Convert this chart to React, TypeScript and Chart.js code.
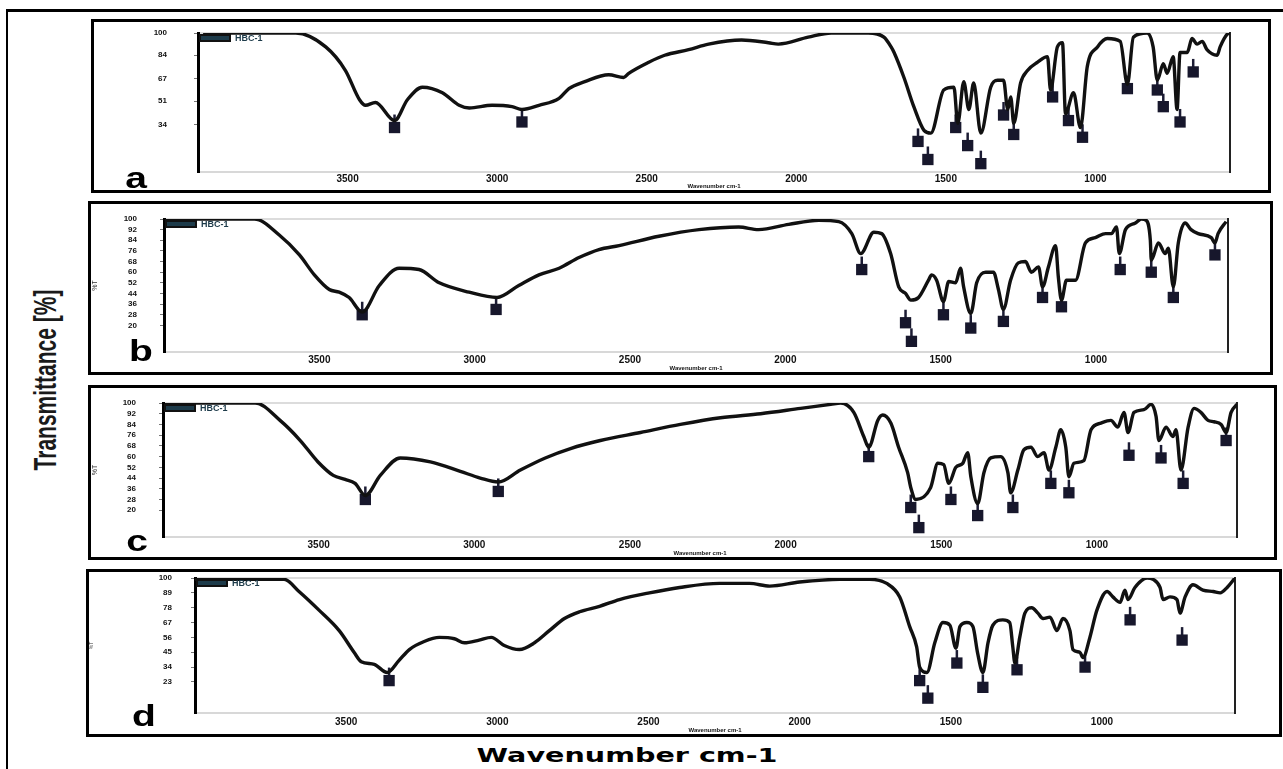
import React, { useEffect, useRef } from 'react';
import { Chart, registerables } from 'chart.js';

Chart.register(...registerables);

// ---------------- data ----------------
const xTickValues = [3500, 3000, 2500, 2000, 1500, 1000];
const seriesLabel = 'HBC-1';

const waveA = [3983, 3673, 3573, 3507, 3460, 3440, 3407, 3343, 3300, 3250, 3183, 3127, 3093, 3017, 2950, 2917, 2860, 2793, 2760, 2707, 2627, 2577, 2560, 2493, 2440, 2360, 2293, 2183, 2093, 2060, 1960, 1883, 1793, 1760, 1707, 1683, 1673, 1640, 1607, 1573, 1550, 1507, 1473, 1460, 1440, 1423, 1407, 1383, 1350, 1327, 1307, 1293, 1283, 1273, 1250, 1227, 1193, 1160, 1150, 1127, 1110, 1100, 1073, 1050, 1027, 993, 960, 917, 893, 873, 827, 807, 793, 773, 760, 740, 727, 717, 693, 677, 660, 643, 627, 593, 583, 560, 550];
const transA = [100, 100, 90, 73, 52, 48, 50, 37, 52, 61, 57, 48, 46, 48, 47, 45, 48, 53, 60, 65, 70, 68, 71, 79, 84, 88, 92, 95, 93, 92, 97, 100, 100, 100, 97, 90, 86, 68, 47, 30, 28, 59, 61, 35, 65, 45, 64, 28, 61, 66, 66, 45, 54, 35, 64, 73, 79, 83, 59, 90, 93, 42, 57, 32, 76, 90, 96, 94, 63, 97, 100, 90, 66, 78, 71, 83, 45, 86, 86, 96, 92, 94, 88, 84, 90, 99, 100];
const peakWaveA = [3343, 2917, 1593, 1560, 1467, 1427, 1383, 1307, 1273, 1143, 1090, 1043, 893, 793, 773, 717, 673];
const peakTransA = [32, 36, 22, 9, 32, 19, 6, 41, 27, 54, 37, 25, 60, 59, 47, 36, 72];
const yTicksA = [100, 84, 67, 51, 34];

const waveB = [3998, 3709, 3629, 3564, 3516, 3468, 3436, 3404, 3362, 3307, 3243, 3179, 3114, 3018, 2928, 2858, 2793, 2728, 2664, 2600, 2535, 2407, 2278, 2150, 2086, 1989, 1892, 1828, 1786, 1757, 1715, 1690, 1661, 1635, 1613, 1596, 1571, 1539, 1529, 1513, 1491, 1474, 1452, 1436, 1426, 1403, 1384, 1355, 1330, 1314, 1298, 1275, 1250, 1227, 1208, 1185, 1172, 1153, 1130, 1121, 1111, 1095, 1066, 1034, 1002, 969, 950, 934, 925, 905, 873, 854, 838, 825, 822, 799, 777, 767, 751, 735, 713, 694, 671, 629, 617, 607, 581];
const transB = [100, 100, 88, 73, 58, 47, 45, 41, 30, 50, 63, 62, 52, 45, 41, 50, 58, 63, 71, 77, 80, 87, 92, 94, 92, 96, 99, 98, 89, 74, 90, 89, 74, 49, 44, 39, 41, 54, 58, 54, 38, 53, 52, 63, 49, 29, 52, 60, 60, 47, 32, 54, 67, 68, 60, 64, 49, 64, 80, 56, 39, 54, 54, 82, 86, 89, 89, 94, 74, 92, 97, 100, 99, 84, 69, 82, 74, 78, 49, 82, 97, 92, 89, 86, 82, 89, 98];
const peakWaveB = [3362, 2931, 1754, 1613, 1594, 1491, 1403, 1298, 1172, 1111, 922, 822, 751, 617];
const peakTransB = [28, 32, 62, 22, 8, 28, 18, 23, 41, 34, 62, 60, 41, 73];
const yTicksB = [100, 92, 84, 76, 68, 60, 52, 44, 36, 28, 20];

const waveC = [3994, 3704, 3624, 3559, 3502, 3453, 3415, 3383, 3350, 3302, 3238, 3141, 3045, 2981, 2923, 2852, 2772, 2691, 2595, 2466, 2338, 2209, 2080, 1952, 1855, 1823, 1781, 1749, 1733, 1704, 1688, 1662, 1637, 1608, 1598, 1582, 1534, 1511, 1492, 1476, 1453, 1431, 1415, 1405, 1383, 1363, 1341, 1309, 1286, 1277, 1254, 1235, 1212, 1190, 1170, 1154, 1132, 1116, 1100, 1090, 1074, 1042, 1019, 987, 955, 933, 913, 900, 881, 849, 826, 810, 801, 778, 756, 746, 730, 707, 688, 666, 643, 624, 601, 585, 569, 550];
const transC = [100, 100, 87, 72, 56, 46, 43, 40, 31, 46, 59, 56, 49, 44, 41, 50, 59, 66, 72, 78, 84, 89, 92, 96, 99, 100, 93, 75, 67, 87, 91, 85, 67, 48, 37, 28, 37, 55, 54, 40, 52, 55, 63, 45, 25, 48, 59, 60, 48, 33, 50, 65, 67, 60, 63, 50, 67, 80, 67, 45, 55, 57, 80, 85, 87, 82, 93, 78, 93, 95, 99, 90, 72, 82, 75, 80, 50, 82, 96, 93, 87, 86, 84, 78, 93, 99];
const peakWaveC = [3350, 2923, 1733, 1598, 1572, 1469, 1383, 1270, 1148, 1090, 897, 794, 723, 585];
const peakTransC = [28, 34, 60, 22, 7, 28, 16, 22, 40, 33, 61, 59, 40, 72];
const yTicksC = [100, 92, 84, 76, 68, 60, 52, 44, 36, 28, 20];

const waveD = [4000, 3705, 3656, 3589, 3523, 3474, 3450, 3407, 3364, 3325, 3291, 3242, 3192, 3142, 3109, 3060, 3020, 2977, 2927, 2877, 2828, 2778, 2728, 2662, 2596, 2497, 2397, 2265, 2166, 2099, 2000, 1868, 1768, 1712, 1669, 1636, 1613, 1603, 1579, 1553, 1526, 1503, 1483, 1470, 1447, 1427, 1411, 1394, 1377, 1361, 1328, 1305, 1295, 1288, 1272, 1255, 1232, 1212, 1195, 1172, 1149, 1129, 1106, 1096, 1073, 1063, 1040, 1017, 983, 964, 940, 924, 914, 891, 851, 831, 808, 798, 775, 752, 742, 725, 699, 666, 632, 609, 586, 560];
const transD = [99, 99, 90, 76, 61, 45, 38, 36, 30, 39, 47, 53, 56, 55, 52, 54, 56, 50, 47, 52, 61, 70, 75, 79, 84, 89, 93, 96, 96, 94, 97, 99, 99, 96, 86, 64, 49, 34, 30, 52, 67, 65, 48, 64, 67, 64, 44, 30, 52, 65, 69, 67, 49, 37, 56, 74, 78, 74, 70, 71, 61, 70, 61, 47, 45, 41, 56, 76, 90, 86, 82, 91, 84, 93, 100, 99, 93, 84, 86, 84, 74, 86, 95, 91, 90, 89, 93, 100];
const peakWaveD = [3358, 1603, 1576, 1480, 1394, 1281, 1056, 907, 735];
const peakTransD = [24, 24, 11, 37, 19, 32, 34, 69, 54];
const yTicksD = [100, 89, 78, 67, 56, 45, 34, 23];

const panelLetters = ['a', 'b', 'c', 'd'];
const xMins = [550, 575, 550, 560];

// ---------------- layout (positions / sizes only) ----------------
type Geo = { box: [number, number, number, number]; plot: [number, number, number, number]; tickPad: number; xPad: number; yTitle: number };
const geos: Geo[] = [
  { box: [91, 19, 1271, 193], plot: [198, 33, 1230, 172], tickPad: 27, xPad: 1, yTitle: 0 },
  { box: [88, 201, 1273, 375], plot: [164, 219, 1228, 352], tickPad: 23, xPad: 2, yTitle: 7 },
  { box: [88, 385, 1277, 560], plot: [163, 403, 1237, 537], tickPad: 23, xPad: 2, yTitle: 7 },
  { box: [86, 569, 1282, 737], plot: [195, 578, 1235, 713], tickPad: 19, xPad: 3, yTitle: 5 },
];
const BORDER = 3;

const panelData = [
  { wave: waveA, trans: transA, pw: peakWaveA, pt: peakTransA, yt: yTicksA },
  { wave: waveB, trans: transB, pw: peakWaveB, pt: peakTransB, yt: yTicksB },
  { wave: waveC, trans: transC, pw: peakWaveC, pt: peakTransC, yt: yTicksC },
  { wave: waveD, trans: transD, pw: peakWaveD, pt: peakTransD, yt: yTicksD },
];

const topLinePlugin = {
  id: 'topLine',
  beforeDraw(chart: any) {
    const { ctx, chartArea } = chart;
    ctx.save();
    ctx.strokeStyle = '#dcdcdc';
    ctx.lineWidth = 2;
    ctx.beginPath();
    ctx.moveTo(chartArea.left, chartArea.top);
    ctx.lineTo(chartArea.right, chartArea.top);
    ctx.stroke();
    ctx.restore();
  },
};

const stubPlugin = {
  id: 'stubs',
  beforeDatasetsDraw(chart: any) {
    const meta = chart.getDatasetMeta(1);
    const ctx = chart.ctx;
    ctx.save();
    ctx.strokeStyle = '#1c1c34';
    ctx.lineWidth = 2.5;
    meta.data.forEach((p: any) => {
      ctx.beginPath();
      ctx.moveTo(p.x, p.y);
      ctx.lineTo(p.x, p.y - 13);
      ctx.stroke();
    });
    ctx.restore();
  },
};

// small in-plot legend entry drawn in the top-left corner of the plot area
const cornerLegendPlugin = {
  id: 'cornerLegend',
  afterDatasetsDraw(chart: any) {
    const { ctx, chartArea } = chart;
    const ds = chart.data.datasets[0];
    ctx.save();
    ctx.fillStyle = '#1d3b4a';
    ctx.strokeStyle = '#111';
    ctx.lineWidth = 2;
    const x0 = chartArea.left + 2;
    const y0 = chartArea.top + 2;
    ctx.fillRect(x0, y0, 30, 6);
    ctx.strokeRect(x0, y0, 30, 6);
    ctx.font = 'bold 9px Arial, "Liberation Sans", sans-serif';
    ctx.textBaseline = 'middle';
    ctx.fillStyle = '#1d3b4a';
    ctx.fillText(ds.label, x0 + 35, y0 + 4);
    ctx.restore();
  },
};

function Panel({ idx }: { idx: number }) {
  const ref = useRef<HTMLCanvasElement>(null);
  const g = geos[idx];
  const d = panelData[idx];
  const innerL = g.box[0] + BORDER;
  const innerT = g.box[1] + BORDER;
  const innerR = g.box[2] - BORDER;
  const innerB = g.box[3] - BORDER;
  const w = innerR - innerL;
  const h = innerB - innerT;
  const padTop = g.plot[1] - innerT;
  const yW = g.plot[0] - innerL;
  const padRight = innerR - g.plot[2];
  const xH = innerB - g.plot[3];

  useEffect(() => {
    if (!ref.current) return;
    const curve = d.wave.map((x, i) => ({ x, y: d.trans[i] }));
    const peaks = d.pw.map((x, i) => ({ x, y: d.pt[i] }));
    const chart = new Chart(ref.current, {
      type: 'line',
      data: {
        datasets: [
          {
            label: seriesLabel,
            data: curve,
            borderColor: '#111',
            backgroundColor: '#1d3b4a',
            borderWidth: 3.4,
            pointRadius: 0,
            cubicInterpolationMode: 'monotone',
            fill: false,
          },
          {
            label: 'peaks',
            data: peaks,
            showLine: false,
            pointStyle: 'rect',
            pointRadius: 8,
            backgroundColor: '#17172c',
            borderColor: '#17172c',
            borderWidth: 0,
          },
        ],
      } as any,
      options: {
        responsive: false,
        animation: false,
        layout: { autoPadding: false, padding: { top: padTop, right: padRight, bottom: 0, left: 0 } },
        plugins: {
          tooltip: { enabled: false },
          legend: { display: false },
        },
        scales: {
          x: {
            type: 'linear',
            reverse: true,
            min: xMins[idx],
            max: 4000,
            afterBuildTicks: (s: any) => {
              s.ticks = xTickValues.map((v) => ({ value: v }));
            },
            afterFit: (s: any) => {
              s.height = xH;
              s.paddingLeft = 0;
              s.paddingRight = 0;
              s.paddingTop = 0;
              s.paddingBottom = 0;
            },
            ticks: {
              autoSkip: false,
              maxRotation: 0,
              padding: g.xPad,
              color: '#111',
              font: { size: 10, weight: 'bold' },
              callback: (v: any) => String(v),
            },
            grid: { display: false, drawTicks: false },
            border: { color: '#d8d8d8', width: 2 },
            title: {
              display: true,
              text: 'Wavenumber cm-1',
              color: '#111',
              font: { size: 6, weight: 'bold' },
              padding: 0,
            },
          },
          y: {
            min: 0,
            max: 100,
            afterBuildTicks: (s: any) => {
              s.ticks = d.yt.map((v) => ({ value: v }));
            },
            afterFit: (s: any) => {
              s.width = yW;
              s.paddingTop = 0;
              s.paddingBottom = 0;
              s.paddingLeft = 0;
              s.paddingRight = 0;
            },
            ticks: {
              padding: g.tickPad,
              color: '#111',
              font: { size: 8, weight: 'bold' },
              callback: (v: any) => String(v),
            },
            grid: { display: true, drawOnChartArea: false, tickLength: 4, color: '#777' },
            border: { color: '#000', width: 3 },
            title: {
              display: g.yTitle > 0,
              text: '%T',
              color: '#333',
              font: { size: g.yTitle || 6 },
              padding: 0,
            },
          },
          yR: {
            position: 'right',
            min: 0,
            max: 100,
            ticks: { display: false, padding: 0 },
            grid: { display: false, drawTicks: false },
            border: { color: '#222', width: 2 },
            afterFit: (s: any) => {
              s.width = 0;
              s.paddingTop = 0;
              s.paddingBottom = 0;
            },
          },
        },
      } as any,
      plugins: [topLinePlugin, stubPlugin, cornerLegendPlugin],
    });
    return () => chart.destroy();
  }, []);

  return (
    <div
      style={{
        position: 'absolute',
        left: g.box[0],
        top: g.box[1],
        width: g.box[2] - g.box[0],
        height: g.box[3] - g.box[1],
        border: `${BORDER}px solid #000`,
        boxSizing: 'border-box',
      }}
    >
      <canvas ref={ref} width={w} height={h} style={{ position: 'absolute', left: 0, top: 0, width: w, height: h }} />
    </div>
  );
}

const letterCenters: [number, number][] = [
  [136, 178],
  [141, 351],
  [137, 541],
  [144, 716],
];

function Centered({ x, y, transform, children, style }: any) {
  return (
    <div style={{ position: 'absolute', left: x, top: y, width: 0, height: 0, transform, transformOrigin: '0 0' }}>
      <span style={{ position: 'absolute', left: 0, top: 0, transform: 'translate(-50%, -50%)', whiteSpace: 'nowrap', lineHeight: 1, ...style }}>
        {children}
      </span>
    </div>
  );
}

export default function App() {
  return (
    <div
      style={{
        position: 'fixed',
        left: 0,
        top: 0,
        width: 1283,
        height: 769,
        background: '#fff',
        overflow: 'hidden',
        fontFamily: 'Arial, "Liberation Sans", sans-serif',
      }}
    >
      <div
        style={{
          position: 'absolute',
          left: 6,
          top: 9,
          width: 1300,
          height: 800,
          borderLeft: '2px solid #000',
          borderTop: '3px solid #000',
        }}
      />
      {[0, 1, 2, 3].map((i) => (
        <Panel key={i} idx={i} />
      ))}
      {panelLetters.map((l, i) => (
        <Centered key={l} x={letterCenters[i][0]} y={letterCenters[i][1]} transform="scaleX(1.3)" style={{ fontSize: 30, fontWeight: 'bold', color: '#000' }}>
          {l}
        </Centered>
      ))}
      <Centered x={45} y={380} transform="scaleX(1.45) rotate(-90deg)" style={{ fontSize: 21, color: '#1a1a1a', fontWeight: 'bold' }}>
        Transmittance [%]
      </Centered>
      <Centered x={627} y={755} transform="scaleX(1.43)" style={{ fontSize: 20, fontWeight: 'bold', fontFamily: '"DejaVu Sans", sans-serif', color: '#000' }}>
        Wavenumber cm-1
      </Centered>
    </div>
  );
}
